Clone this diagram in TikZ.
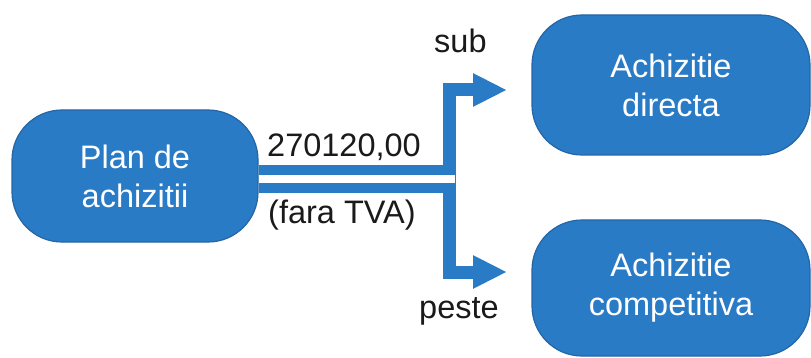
\documentclass[tikz,border=0pt]{standalone}
\usepackage{fontspec}
\setmainfont{Liberation Sans}
\usetikzlibrary{arrows.meta}
\definecolor{boxblue}{RGB}{42,123,198}
\definecolor{boxedge}{RGB}{36,101,166}
\definecolor{txt}{RGB}{26,26,26}
\begin{document}
\begin{tikzpicture}[x=1pt,y=-1pt,
  bluebox/.style={rectangle, rounded corners=50pt, fill=boxblue, draw=boxedge, line width=1.2pt,
     text=white, align=center, inner sep=0pt,
     font=\fontsize{32.5}{39}\selectfont},
  lbl/.style={text=txt, inner sep=0pt, font=\fontsize{32.5}{39}\selectfont},
  conn/.style={draw=boxblue, line width=13pt, line join=miter},
  arrowtip/.style={-{Triangle[length=34pt,width=31pt]}}]
\useasboundingbox (0,0) rectangle (811,358);
\node[bluebox, minimum width=246pt, minimum height=132pt] (plan) at (135,176) {Plan de\\achizitii};
\node[bluebox, minimum width=278pt, minimum height=140pt] (direct) at (671,85) {Achizitie\\directa};
\node[bluebox, minimum width=278pt, minimum height=136pt] (comp) at (671,288) {Achizitie\\competitiva};
\coordinate (j) at (455,179);
\coordinate (up) at (507,90);
\coordinate (down) at (507,272);
\draw[draw=boxblue, line width=28pt] (plan.east |- j) -- (j);
\draw[conn, arrowtip] (449,179) -- (449,90) -- (up);
\draw[conn, arrowtip] (449,179) -- (449,272) -- (down);
\draw[draw=white, line width=8pt] (plan.east |- j) -- (j);
\node[lbl, anchor=base west] (val) at (267,157) {270120,00};
\node[lbl, anchor=base west] (tva) at (268,223) {(fara TVA)};
\node[lbl, anchor=base west] (sub) at (434,53) {sub};
\node[lbl, anchor=base west] (peste) at (419,318) {peste};
\end{tikzpicture}
\end{document}
